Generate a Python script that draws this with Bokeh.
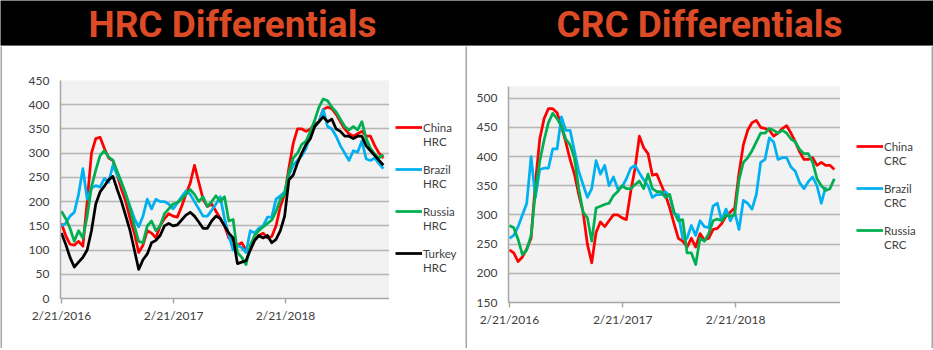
import pandas as pd
from bokeh.plotting import figure
from bokeh.models import Legend, LegendItem, FixedTicker, Label, Range1d, Plot
from bokeh.layouts import column, row
from bokeh.embed import file_html
from bokeh.resources import INLINE

NAN = float("nan")

# ---------------- data ----------------
dates = pd.date_range("2016-02-21", periods=76, freq="14D")
tick_dates = ["2016-02-21", "2017-02-21", "2018-02-21"]
tick_labels = ["2/21/2016", "2/21/2017", "2/21/2018"]

hrc_names = ["China", "Brazil", "Russia", "Turkey"]
hrc_suffix = "HRC"
hrc_china = [155, 130, 112, 110, 118, 108, 200, 300, 330, 333,
             310, 290, 285, 255, 225, 200, 165, 135, 95, 110,
             140, 135, 125, 150, 165, 175, 170, 168, 190, 215,
             238, 275, 240, 205, 190, 195, 180, 165, 150, 125,
             120, 110, 115, 100, 100, 120, 130, 135, 125, 128,
             150, 190, 215, 270, 320, 350, 350, 345, 350, 360,
             365, 390, 395, 392, 380, 365, 350, 340, 335, 340,
             345, 335, 335, 315, 300, 290]
hrc_brazil = [150, 155, 170, 178, 215, 268, 205, 228, 233, 230,
              248, 240, 275, 255, 238, 215, 190, 165, 148, 170,
              205, 185, 205, 200, 200, 195, 185, 197, 210, 222,
              215, 200, 185, 170, 170, 182, 195, 210, 165, 130,
              100, 110, 105, 95, 140, 135, 145, 150, 168, 168,
              205, 212, 220, 255, 275, 285, 295, 310, 340, 355,
              365, 390, 355, 350, 335, 315, 300, 285, 305, 302,
              325, 288, 285, 290, 278, 268]
hrc_russia = [180, 165, 145, 118, 140, 125, 170, 230, 265, 295,
              305, 292, 285, 262, 240, 215, 185, 150, 118, 115,
              150, 160, 140, 150, 175, 185, 195, 198, 205, 215,
              225, 215, 200, 210, 190, 200, 212, 200, 210, 160,
              163, 95, 85, 70, 110, 130, 140, 148, 155, 162,
              180, 205, 215, 260, 290, 300, 318, 325, 345, 368,
              395, 412, 408, 395, 385, 370, 355, 348, 355, 348,
              365, 330, 310, 298, 290, 297]
hrc_turkey = [135, 112, 85, 65, 75, 85, 100, 140, 195, 220,
              232, 245, 252, 225, 200, 170, 140, 100, 60, 80,
              92, 115, 120, 130, 150, 155, 150, 152, 162, 172,
              178, 170, 158, 145, 145, 160, 170, 165, 150, 135,
              125, 72, 75, 78, 100, 120, 130, 125, 130, 115,
              122, 140, 170, 245, 255, 280, 300, 318, 330, 355,
              365, 375, 365, 370, 350, 345, 335, 335, 330, 335,
              335, 315, 305, 295, 285, 275]

crc_names = ["China", "Brazil", "Russia"]
crc_suffix = "CRC"
crc_china = [240, 235, 220, 228, 242, 260, 355, 430, 465, 482,
             482, 475, 452, 425, 395, 370, 335, 305, 250, 218,
             270, 288, 280, 290, 300, 300, 295, 292, 340, 380,
             435, 415, 405, 368, 370, 352, 335, 312, 285, 260,
             255, 245, 260, 245, 268, 257, 260, 275, 277, 285,
             298, 305, 312, 372, 420, 445, 458, 462, 450, 448,
             445, 435, 440, 448, 453, 440, 425, 408, 395, 395,
             398, 385, 390, 385, 385, 378]
crc_brazil = [260, 265, 280, 300, 320, 400, 330, 378, 380, 380,
              413, 413, 468, 445, 445, 410, 375, 352, 330, 345,
              393, 370, 385, 350, 365, 345, 348, 362, 380, 385,
              372, 360, 350, 330, 335, 335, 340, 332, 302, 300,
              260, 260, 282, 265, 290, 280, 278, 315, 320, 290,
              310, 290, 305, 275, 325, 320, 310, 335, 390, 395,
              432, 425, 395, 398, 398, 382, 375, 355, 345, 357,
              365, 350, 320, 348, NAN, NAN]
crc_russia = [282, 278, 258, 232, 240, 265, 340, 392, 428, 458,
              474, 465, 452, 430, 420, 398, 345, 305, 295, 255,
              312, 315, 318, 320, 333, 340, 350, 345, 345, 352,
              358, 345, 370, 345, 340, 340, 330, 335, 305, 290,
              292, 235, 235, 215, 260, 255, 268, 290, 293, 290,
              300, 298, 300, 360, 390, 398, 410, 425, 440, 440,
              448, 445, 440, 445, 440, 430, 425, 412, 405, 405,
              390, 362, 350, 342, 345, 362]

hrc_ticks = [0, 50, 100, 150, 200, 250, 300, 350, 400, 450]
crc_ticks = [150, 200, 250, 300, 350, 400, 450, 500]

COLORS = ["#ff0000", "#00b0f0", "#00b050", "#000000"]
TXT = "#404040"
GRID = "#b5b5b5"
AXIS = "#a6a6a6"
FONT = "Lato"
LW = 2.75

x_start = pd.Timestamp("2016-02-18")
x_end = pd.Timestamp("2019-01-26")
tick_ms = [(pd.Timestamp(d) - pd.Timestamp("1970-01-01")) / pd.Timedelta(milliseconds=1)
           for d in tick_dates]

NOALIGN = {"frame_align": False} if "frame_align" in Plot.properties() else {}


def chart(width, height, mbl, mbt, mbb, yr, yticks, series):
    p = figure(width=width, height=height, x_axis_type="datetime",
               x_range=Range1d(x_start, x_end), y_range=Range1d(*yr),
               output_backend="svg", toolbar_location=None,
               min_border_left=mbl, min_border_right=0,
               min_border_top=mbt, min_border_bottom=mbb,
               background_fill_color="#f2f2f2", border_fill_color="white",
               outline_line_color=None, **NOALIGN)
    p.xgrid.grid_line_color = None
    p.ygrid.grid_line_color = GRID
    p.ygrid.grid_line_width = 1.5
    p.yaxis.ticker = FixedTicker(ticks=yticks)
    p.ygrid.ticker = FixedTicker(ticks=yticks)
    p.xaxis.ticker = FixedTicker(ticks=tick_ms)
    p.xaxis.major_label_overrides = {t: l for t, l in zip(tick_ms, tick_labels)}
    for ax in (p.xaxis[0], p.yaxis[0]):
        ax.axis_line_color = AXIS
        ax.axis_line_width = 1.5
        ax.major_tick_line_color = AXIS
        ax.major_tick_line_width = 1.5
        ax.minor_tick_line_color = None
        ax.major_tick_in = 0
        ax.major_label_text_font = FONT
        ax.major_label_text_font_size = "12px"
        ax.major_label_text_color = TXT
    p.yaxis.major_tick_out = 0
    p.yaxis.major_label_standoff = 11
    p.xaxis.major_tick_out = 5
    p.xaxis.major_label_standoff = 4
    for vals, col in zip(series, COLORS):
        p.line(dates, vals, line_color=col, line_width=LW, line_join="round")
    return p


def legend_fig(width, height, names, suffix, lx, ly):
    f = figure(width=width, height=height, x_range=(0, 1), y_range=(0, 1),
               output_backend="svg", toolbar_location=None, min_border=0,
               outline_line_color=None, background_fill_color="white",
               border_fill_color="white", x_axis_location=None, y_axis_location=None,
               **NOALIGN)
    f.grid.visible = False
    # legend swatch renderers, kept outside the visible range
    hx, hy = [5, 6], [5, 5]
    items = []
    for i, (name, col) in enumerate(zip(names, COLORS)):
        if i > 0:
            s = f.line(x=hx, y=hy, line_alpha=0)
            items.append(LegendItem(label=" ", renderers=[s]))
        r = f.line(x=hx, y=hy, line_color=col, line_width=LW)
        items.append(LegendItem(label=name, renderers=[r]))
        d = f.line(x=hx, y=hy, line_alpha=0)
        items.append(LegendItem(label=suffix, renderers=[d]))
    leg = Legend(items=items, location=(lx, ly), orientation="vertical", ncols=1,
                 spacing=0, padding=0, margin=0, glyph_width=27, glyph_height=14,
                 label_height=14, label_standoff=1, label_text_font=FONT,
                 label_text_font_size="11.5px", label_text_color=TXT,
                 border_line_alpha=0, background_fill_alpha=0)
    f.add_layout(leg, "center")
    return f


left = chart(387, 302, 58, 34, 50, (0, 450), hrc_ticks,
             [hrc_china, hrc_brazil, hrc_russia, hrc_turkey])
left_leg = legend_fig(76, 302, hrc_names, hrc_suffix, 6, 74)
right = chart(373, 302, 41, 40, 46, (150, 520), crc_ticks,
              [crc_china, crc_brazil, crc_russia])
right_leg = legend_fig(91, 302, crc_names, crc_suffix, 16, 97)

header = figure(width=933, height=46, x_range=(0, 933), y_range=(0, 45),
                output_backend="svg", toolbar_location=None, min_border=0,
                min_border_bottom=1,
                background_fill_color="black", border_fill_color=AXIS,
                outline_line_color=None, x_axis_location=None, y_axis_location=None,
                **NOALIGN)
header.grid.visible = False
for txt, cx in (("HRC Differentials", 232), ("CRC Differentials", 699)):
    header.add_layout(Label(x=cx, y=21, text=txt, text_align="center",
                            text_baseline="middle",
                            text_font="Roboto",
                            text_font_style="bold", text_font_size="37px",
                            text_color="#dc4a26"))


def bar(w, h):
    b = figure(width=w, height=h, output_backend="svg", toolbar_location=None,
               min_border=0, outline_line_color=None,
               background_fill_color=AXIS, border_fill_color=AXIS,
               x_axis_location=None, y_axis_location=None, **NOALIGN)
    b.grid.visible = False
    return b


page = column(header,
              row(bar(2, 302), left, left_leg, bar(2, 302), right, right_leg, bar(2, 302)),
              bar(933, 1))

open("out.html", "w").write(file_html(page, INLINE))
